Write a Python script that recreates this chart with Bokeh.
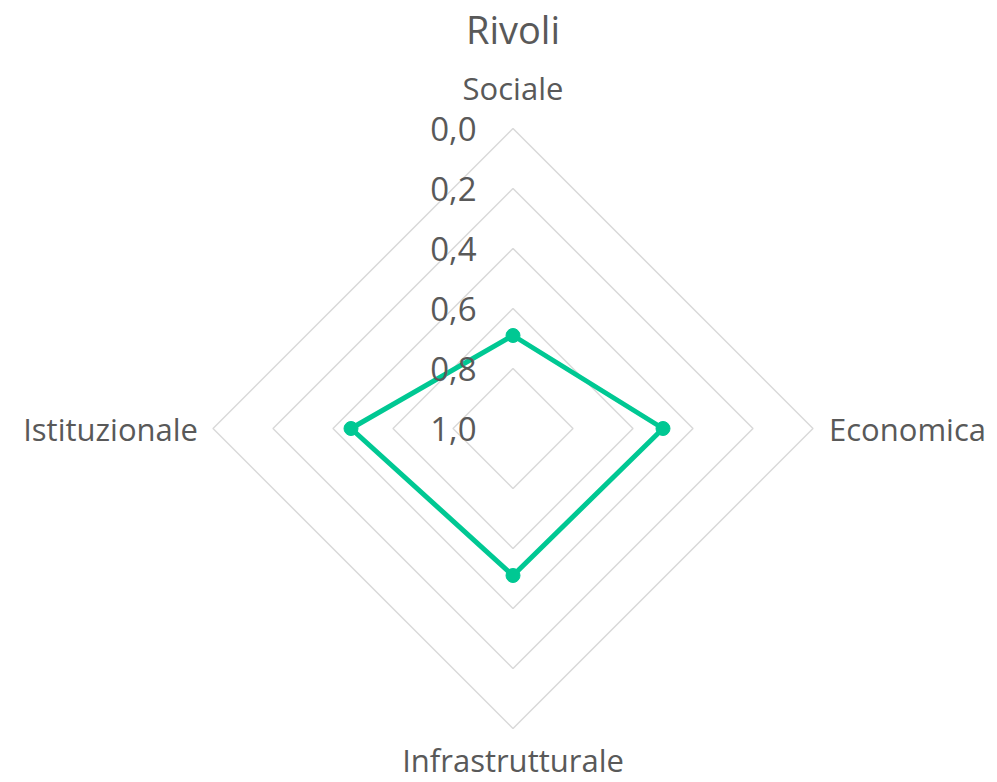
import math
from bokeh.plotting import figure
from bokeh.models import Range1d, ColumnDataSource
from bokeh.core.properties import value
from bokeh.embed import file_html
from bokeh.resources import INLINE

# ---- data ----
title_text = "Rivoli"
categories = ["Sociale", "Economica", "Infrastrutturale", "Istituzionale"]
values = [0.69, 0.50, 0.51, 0.46]
ticks = [0.0, 0.2, 0.4, 0.6, 0.8, 1.0]
tick_labels = ["0,0", "0,2", "0,4", "0,6", "0,8", "1,0"]

# ---- geometry (reversed radial axis: 0 outside, 1 at centre) ----
R = 300.0
def rad(v):
    return (1.0 - v) * R

n = len(categories)
angles = [math.pi / 2 - 2 * math.pi * i / n for i in range(n)]

FONT = "Open Sans"
TXT = "#595959"
GRID = "#d9d9d9"
LINE = "#00c893"

W, H = 997, 782
CX, CY = 512.5, 428.0
p = figure(width=W, height=H, output_backend="svg", toolbar_location=None,
           x_range=Range1d(-CX, W - CX), y_range=Range1d(CY - H, CY),
           min_border=0, outline_line_color=None)
p.axis.visible = False
p.grid.visible = False
p.background_fill_color = "white"
p.border_fill_color = "white"

# grid diamonds
for t in ticks:
    r = rad(t)
    if r <= 0:
        continue
    xs = [r * math.cos(a) for a in angles] + [r * math.cos(angles[0])]
    ys = [r * math.sin(a) for a in angles] + [r * math.sin(angles[0])]
    p.line(xs, ys, line_color=GRID, line_width=1.5)

# data series
dx = [rad(v) * math.cos(a) for v, a in zip(values, angles)]
dy = [rad(v) * math.sin(a) for v, a in zip(values, angles)]
p.line(dx + [dx[0]], dy + [dy[0]], line_color=LINE, line_width=5, line_join="round")
p.scatter(dx, dy, size=14, fill_color=LINE, line_color=LINE)

# tick labels
tsrc = ColumnDataSource(dict(x=[-36.5] * len(ticks), y=[rad(t) for t in ticks], t=tick_labels))
p.text(x="x", y="y", text="t", source=tsrc, text_font=value(FONT), text_font_size="33px",
       text_color=TXT, text_align="right", text_baseline="middle")

# category labels
lab_r = [R + 41, R + 16, R + 31, R + 15]
aligns = ["center", "left", "center", "right"]
cx, cy = [], []
for a, lr in zip(angles, lab_r):
    cx.append(lr * math.cos(a))
    cy.append(lr * math.sin(a))
csrc = ColumnDataSource(dict(x=cx, y=cy, t=categories, al=aligns))
p.text(x="x", y="y", text="t", source=csrc, text_font=value(FONT), text_font_size="31px",
       text_color=TXT, text_align="al", text_baseline="middle")

# title
p.text(x=[0], y=[400], text=[title_text], text_font=value(FONT), text_font_size="38px",
       text_color=TXT, text_align="center", text_baseline="middle")

open("out.html", "w").write(file_html(p, INLINE))
